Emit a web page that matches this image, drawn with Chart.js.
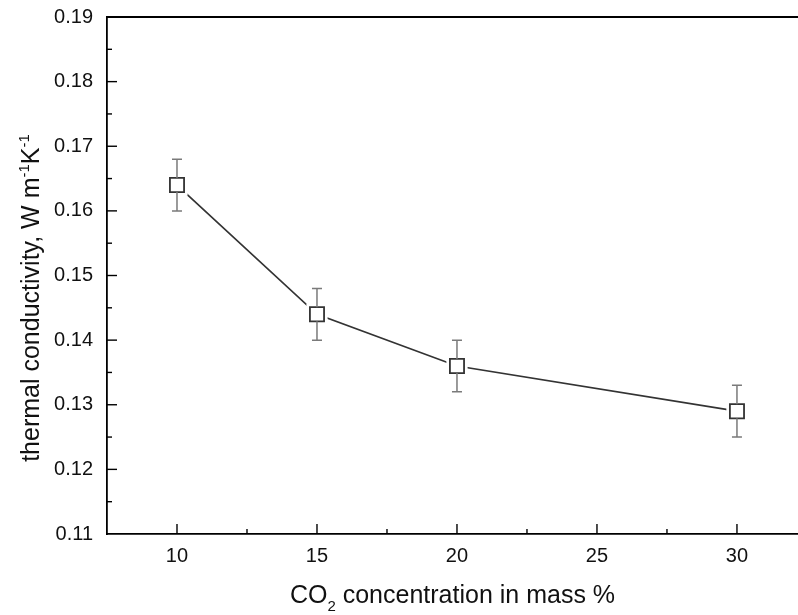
<!DOCTYPE html>
<html>
<head>
<meta charset="utf-8">
<script src="https://cdn.jsdelivr.net/npm/chart.js@4.4.1/dist/chart.umd.min.js"></script>
<style>
  body { margin: 0; background: #fff; }
</style>
</head>
<body>
<canvas id="chart" width="798" height="615"></canvas>
<script>
// data
var co2Mass = [10, 15, 20, 30];
var conductivity = [0.164, 0.144, 0.136, 0.129];
var errorBar = [0.004, 0.004, 0.004, 0.004];

// tick labels
var xTicks = [10, 15, 20, 25, 30];
var yTicks = [0.11, 0.12, 0.13, 0.14, 0.15, 0.16, 0.17, 0.18, 0.19];

// axis titles, split where sub/superscripts go
var xTitle = [['CO'], ['2', 'sub'], [' concentration in mass %']];
var yTitle = [['thermal conductivity, W m'], ['-1', 'sup'], ['K'], ['-1', 'sup']];

var points = co2Mass.map(function (x, i) { return { x: x, y: conductivity[i] }; });

var FONT = 'Arial, "Liberation Sans", sans-serif';

// draws a title made of pieces with small raised/lowered parts, centred on (cx, cy)
function drawRichText(ctx, parts, cx, cy, angle) {
    var big = '25px ' + FONT, small = '15px ' + FONT;
    var widths = parts.map(function (p) {
        ctx.font = p[1] ? small : big;
        return ctx.measureText(p[0]).width;
    });
    var total = widths.reduce(function (s, w) { return s + w; }, 0);
    ctx.save();
    ctx.translate(cx, cy);
    ctx.rotate(angle);
    ctx.fillStyle = '#111';
    ctx.textBaseline = 'alphabetic';
    var x = -total / 2;
    parts.forEach(function (p, i) {
        ctx.font = p[1] ? small : big;
        var dy = p[1] === 'sup' ? -10 : (p[1] === 'sub' ? 8 : 0);
        ctx.fillText(p[0], x, 9 + dy);
        x += widths[i];
    });
    ctx.restore();
}

// axis frame, inward ticks, titles and error bars
var framePlugin = {
    id: 'frame',
    afterDraw: function (chart) {
        var ctx = chart.ctx;
        var a = chart.chartArea;
        var xs = chart.scales.x;
        var ys = chart.scales.y;
        ctx.save();
        ctx.strokeStyle = '#000';
        ctx.lineWidth = 1.8;
        // top line
        ctx.beginPath();
        ctx.moveTo(a.left, a.top);
        ctx.lineTo(a.right, a.top);
        ctx.stroke();

        ctx.lineWidth = 1.4;
        // x ticks
        xTicks.forEach(function (v, i) {
            var px = xs.getPixelForValue(v);
            ctx.beginPath();
            ctx.moveTo(px, a.bottom);
            ctx.lineTo(px, a.bottom - 10);
            ctx.stroke();
            var mid = i < xTicks.length - 1 ? (v + xTicks[i + 1]) / 2 : v + (v - xTicks[i - 1]) / 2;
            var pm = xs.getPixelForValue(mid);
            if (pm < a.right) {
                ctx.beginPath();
                ctx.moveTo(pm, a.bottom);
                ctx.lineTo(pm, a.bottom - 5);
                ctx.stroke();
            }
        });
        // y ticks
        yTicks.forEach(function (v, i) {
            var py = ys.getPixelForValue(v);
            if (i > 0 && i < yTicks.length - 1) {
                ctx.beginPath();
                ctx.moveTo(a.left, py);
                ctx.lineTo(a.left + 10, py);
                ctx.stroke();
            }
            if (i < yTicks.length - 1) {
                var pm = ys.getPixelForValue((v + yTicks[i + 1]) / 2);
                ctx.beginPath();
                ctx.moveTo(a.left, pm);
                ctx.lineTo(a.left + 5, pm);
                ctx.stroke();
            }
        });

        // error bars, stopping at the marker edge
        ctx.strokeStyle = '#7a7a7a';
        ctx.lineWidth = 1.5;
        var half = 7;
        co2Mass.forEach(function (x, i) {
            var px = xs.getPixelForValue(x);
            var pc = ys.getPixelForValue(conductivity[i]);
            var pTop = ys.getPixelForValue(conductivity[i] + errorBar[i]);
            var pBot = ys.getPixelForValue(conductivity[i] - errorBar[i]);
            ctx.beginPath();
            ctx.moveTo(px, pTop); ctx.lineTo(px, pc - half);
            ctx.moveTo(px, pBot); ctx.lineTo(px, pc + half);
            ctx.moveTo(px - 5, pTop); ctx.lineTo(px + 5, pTop);
            ctx.moveTo(px - 5, pBot); ctx.lineTo(px + 5, pBot);
            ctx.stroke();
        });
        ctx.restore();

        // axis titles
        drawRichText(ctx, xTitle, (a.left + a.right) / 2, 594, 0);
        drawRichText(ctx, yTitle, 30, 298, -Math.PI / 2);
    }
};

var ctx = document.getElementById('chart');

var chart = new Chart(ctx, {
    type: 'scatter',
    data: {
        datasets: [{
            // markers
            data: points,
            showLine: false,
            pointStyle: 'rect',
            pointRadius: 10,
            pointBackgroundColor: '#fff',
            pointBorderColor: '#333',
            pointBorderWidth: 1.8,
            order: 1
        }, {
            // white halo so the line stops short of the markers
            data: points,
            showLine: false,
            pointStyle: 'rect',
            pointRadius: 15,
            pointBackgroundColor: '#fff',
            pointBorderColor: '#fff',
            pointBorderWidth: 0,
            order: 2
        }, {
            // connecting line
            data: points,
            showLine: true,
            borderColor: '#333',
            borderWidth: 1.7,
            pointRadius: 0,
            fill: false,
            order: 3
        }]
    },
    options: {
        responsive: false,
        animation: false,
        layout: { autoPadding: false, padding: { left: 0, top: 17, right: 0, bottom: 0 } },
        plugins: {
            legend: { display: false },
            tooltip: { enabled: false }
        },
        scales: {
            x: {
                type: 'linear',
                min: 7.5,
                max: 32.18,
                afterBuildTicks: function (scale) {
                    scale.ticks = xTicks.map(function (v) { return { value: v }; });
                },
                afterFit: function (scale) {
                    scale.height = 81;
                    scale.paddingLeft = 0;
                    scale.paddingRight = 0;
                },
                grid: { display: false, drawTicks: false },
                border: { display: true, color: '#000', width: 1.8 },
                ticks: {
                    padding: 10,
                    color: '#111',
                    font: { family: FONT, size: 20 },
                    maxRotation: 0,
                    callback: function (v) { return String(v); }
                }
            },
            y: {
                min: 0.11,
                max: 0.19,
                afterBuildTicks: function (scale) {
                    scale.ticks = yTicks.map(function (v) { return { value: v }; });
                },
                afterFit: function (scale) {
                    scale.width = 107;
                    scale.paddingTop = 0;
                    scale.paddingBottom = 0;
                },
                grid: { display: false, drawTicks: false },
                border: { display: true, color: '#000', width: 1.8 },
                ticks: {
                    padding: 14,
                    color: '#111',
                    font: { family: FONT, size: 20 },
                    callback: function (v) { return v.toFixed(2); }
                }
            }
        }
    },
    plugins: [framePlugin]
});
</script>
</body>
</html>
